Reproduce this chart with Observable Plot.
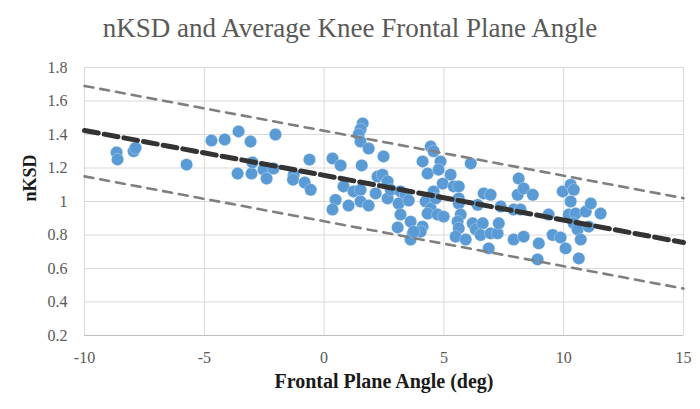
<!DOCTYPE html>
<html>
<head>
<meta charset="utf-8">
<script src="https://cdn.jsdelivr.net/npm/d3@7"></script>
<script src="https://cdn.jsdelivr.net/npm/@observablehq/plot@0.6"></script>
<style>
  html, body { margin: 0; padding: 0; background: #fff; }
  #wrap { width: 700px; height: 409px; position: relative; overflow: hidden; }
  #title { height: 50px; box-sizing: border-box; padding-top: 15px; text-align: center;
           font-family: "Liberation Serif", "DejaVu Serif", serif; font-size: 27px; line-height: 27px;
           color: #595959; white-space: nowrap; }
  #chart svg text { font-family: "Liberation Serif", "DejaVu Serif", serif; }
</style>
</head>
<body>
<div id="wrap">
  <div id="title">nKSD and Average Knee Frontal Plane Angle</div>
  <div id="chart"></div>
</div>
<script>
// Frontal plane angle (deg)
const angle = [
  -8.66, -8.62, -7.95, -7.87, -5.74, -4.70, -4.15, -3.57, -3.07, -2.03,
  -3.61, -3.03, -2.99, -2.53, -2.40, -2.11, -1.27, -1.30, -0.81, -0.56,
  -0.61, 1.61, 1.52, 1.44, 1.52, 1.86, 0.35, 0.69, 1.57, 2.48,
  0.81, 0.48, 0.35, 1.02, 1.23, 1.52, 1.52, 1.86, 2.23, 2.44,
  2.65, 2.15, 2.65, 2.78, 3.19, 3.40, 3.11, 3.53, 3.19, 3.07,
  3.61, 3.70, 3.61, 4.11, 4.03, 4.11, 4.32, 4.45, 4.24, 4.45,
  4.57, 4.57, 4.86, 4.78, 5.28, 4.95, 5.41, 5.62, 6.12, 4.45,
  4.32, 4.74, 4.99, 4.66, 5.62, 5.62, 3.74, 5.70, 5.57, 5.62,
  5.49, 5.91, 6.20, 6.33, 6.62, 6.53, 6.95, 7.24, 7.29, 6.66,
  6.95, 6.41, 7.37, 6.87, 7.91, 8.20, 8.12, 8.08, 7.91, 8.33,
  8.33, 8.71, 9.37, 8.96, 8.91, 9.54, 9.87, 10.08, 9.96, 10.29,
  10.42, 10.29, 10.21, 10.50, 10.42, 10.58, 10.71, 10.63, 10.92, 11.13,
  11.04, 11.54
];
// nKSD
const nksd = [
  1.293, 1.251, 1.300, 1.320, 1.220, 1.364, 1.370, 1.418, 1.358, 1.400,
  1.167, 1.167, 1.233, 1.190, 1.137, 1.197, 1.160, 1.130, 1.113, 1.070,
  1.250, 1.466, 1.430, 1.400, 1.358, 1.316, 1.257, 1.215, 1.215, 1.269,
  1.090, 1.010, 0.952, 0.976, 1.060, 1.070, 1.000, 0.976, 1.149, 1.160,
  1.120, 1.048, 1.018, 1.070, 1.060, 1.040, 0.988, 1.006, 0.922, 0.845,
  0.880, 0.810, 0.773, 0.850, 0.820, 1.239, 1.167, 1.328, 1.000, 0.940,
  1.060, 1.300, 1.239, 1.190, 1.160, 1.107, 1.090, 1.090, 1.227, 0.958,
  0.928, 0.922, 0.910, 1.018, 1.018, 0.988, 0.820, 0.922, 0.880, 0.840,
  0.790, 0.773, 0.870, 0.833, 0.870, 0.800, 0.810, 0.810, 0.870, 1.048,
  1.040, 0.980, 0.970, 0.720, 0.952, 0.952, 1.137, 1.040, 0.773, 0.790,
  1.078, 1.040, 0.922, 0.750, 0.654, 0.800, 0.785, 0.720, 1.060, 1.100,
  1.070, 1.000, 0.922, 0.928, 0.870, 0.833, 0.773, 0.660, 0.940, 0.988,
  0.850, 0.928
];
// Linear trend line and its upper / lower bounds (read at x = -10 and x = 15)
const lineX = [-10, 15];
const trendY = [1.424, 0.755];
const upperY = [1.69, 1.02];
const lowerY = [1.15, 0.48];
// Tick values
const xTicks = [-10, -5, 0, 5, 10, 15];
const yTicks = [0.2, 0.4, 0.6, 0.8, 1.0, 1.2, 1.4, 1.6, 1.8];

const points = angle.map((a, i) => ({x: a, y: nksd[i]}));
const mkLine = ys => lineX.map((x, i) => ({x, y: ys[i]}));

const serif = "'Liberation Serif', 'DejaVu Serif', serif";

const chart = Plot.plot({
  width: 700,
  height: 359,
  marginTop: 17,
  marginBottom: 74,
  marginLeft: 84,
  marginRight: 17,
  style: {fontFamily: serif, fontSize: "16px", color: "#595959", background: "#fff", overflow: "visible"},
  x: {domain: [-10, 15]},
  y: {domain: [0.2, 1.8]},
  marks: [
    Plot.gridX(xTicks, {stroke: "#d9d9d9", strokeOpacity: 1, strokeWidth: 1}),
    Plot.gridY(yTicks, {stroke: "#d9d9d9", strokeOpacity: 1, strokeWidth: 1}),
    Plot.ruleY([0.2], {stroke: "#bfbfbf", strokeWidth: 1}),
    Plot.axisX(xTicks, {tickSize: 0, tickPadding: 16, label: null, fill: "#595959", fontSize: 16,
      fontFamily: serif, tickFormat: d => String(d)}),
    Plot.axisY(yTicks, {tickSize: 0, tickPadding: 17, label: null, fill: "#595959", fontSize: 16,
      fontFamily: serif, tickFormat: d => String(+d.toFixed(1))}),
    Plot.dot(points, {x: "x", y: "y", r: 6.2, fill: "#5b9bd5", stroke: "#ffffff", strokeOpacity: 0.35, strokeWidth: 0.8}),
    Plot.line(mkLine(upperY), {x: "x", y: "y", stroke: "#7f7f7f", strokeWidth: 2.6, strokeDasharray: "9,7"}),
    Plot.line(mkLine(lowerY), {x: "x", y: "y", stroke: "#7f7f7f", strokeWidth: 2.6, strokeDasharray: "9,7"}),
    Plot.line(mkLine(trendY), {x: "x", y: "y", stroke: "#333333", strokeWidth: 5, strokeDasharray: "14,6"}),
    Plot.text(["Frontal Plane Angle (deg)"], {frameAnchor: "bottom", dy: 52, fontWeight: "bold",
      fontSize: 20, fill: "#1a1a1a", fontFamily: serif}),
    Plot.text(["nKSD"], {frameAnchor: "left", dx: -54, rotate: -90, fontWeight: "bold",
      fontSize: 18, fill: "#1a1a1a", fontFamily: serif})
  ]
});
document.getElementById("chart").appendChild(chart);
</script>
</body>
</html>
